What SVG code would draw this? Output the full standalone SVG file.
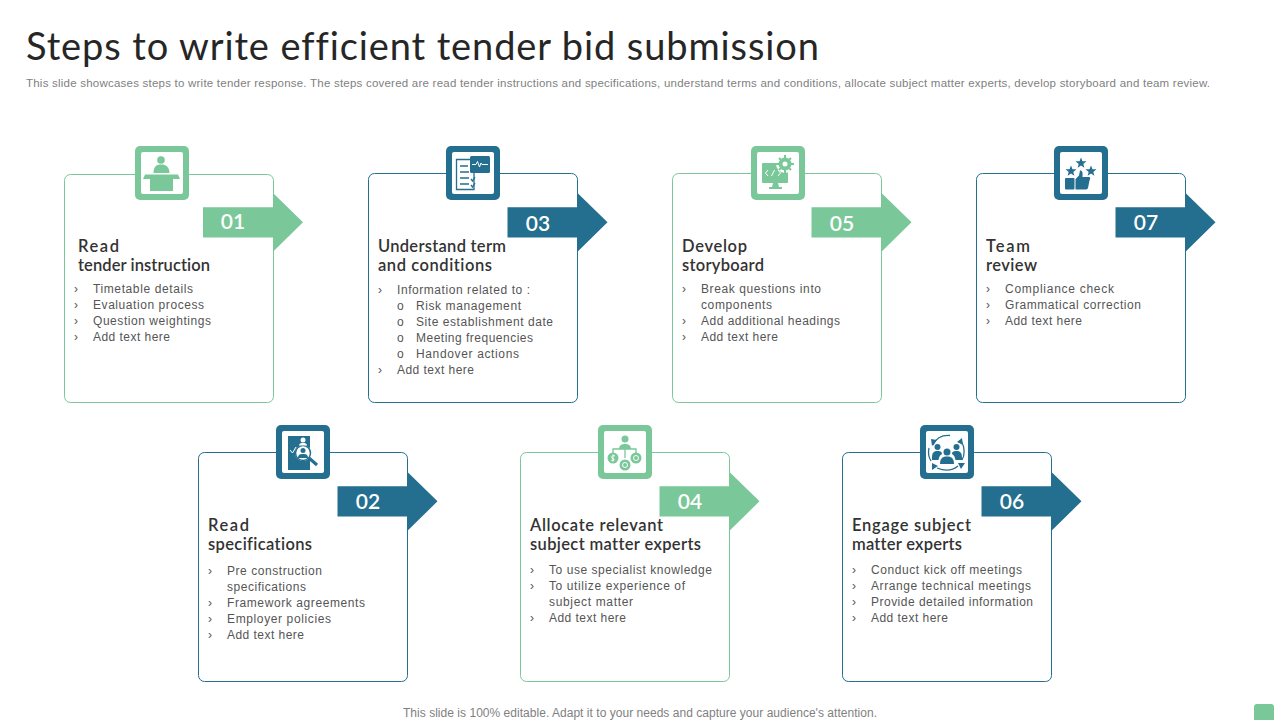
<svg xmlns="http://www.w3.org/2000/svg" width="1280" height="720" viewBox="0 0 1280 720">
<style>
text{font-family:"Liberation Sans",Arial,sans-serif;font-variant-ligatures:none}
.title{font-family:Lato,"Open Sans",sans-serif;font-size:38px;fill:#262626}
.sub{font-size:11.500px;fill:#7f7f7f}
.foot{font-size:12px;fill:#7f7f7f}
.h{font-family:Lato,"Open Sans",sans-serif;font-size:16.500px;font-weight:600;fill:#333}
.b{font-size:12px;fill:#555}
.n{font-family:Lato,"Open Sans",sans-serif;font-size:21px;font-weight:600;fill:#fff;text-anchor:middle}
.g{color:#7ac899}.t{color:#246f8f}
.card{fill:#fff;stroke:currentColor;stroke-width:1}
.f{fill:currentColor}
.s{fill:none;stroke:currentColor;stroke-width:1.300}
.w{fill:#fff}.wl{fill:none;stroke:#fff;stroke-width:1}
</style>
<defs>
<g id="badge"><rect class="f" width="54" height="54" rx="5"/><rect class="w" x="6" y="6" width="42" height="42" rx="2"/></g>
<path id="arrow" class="f" d="M0 14.300H70V0L100 29.300 70 58.800V44.500H0Z"/>
<path id="star" d="M0-5.500 1.500-1.700 5.500-1.700 2.300 .9 3.400 4.800 0 2.500-3.400 4.800-2.300 .9-5.500-1.700-1.500-1.700Z"/>
</defs>
<text class="title" x="26" y="60" textLength="793" lengthAdjust="spacing">Steps to write efficient tender bid submission</text>
<text class="sub" x="26" y="87" textLength="1184" lengthAdjust="spacing">This slide showcases steps to write tender response. The steps covered are read tender instructions and specifications, understand terms and conditions, allocate subject matter experts, develop storyboard and team review.</text>

<g id="step-01" class="g">
<rect class="card" x="64.500" y="174.500" width="209" height="228" rx="6"/>
<use href="#badge" x="135" y="146"/>
<g class="f" transform="translate(135 146)"><circle cx="26" cy="14" r="3.800"/><path d="M18.500 27C18.500 21 21 18.500 26 18.500S34.500 21 34.500 27Z"/><path d="M10 28.500H43L45 33H38V45H15V33H8Z"/></g>
<use href="#arrow" x="203" y="193"/>
<text class="n" x="233" y="229">01</text>
<text class="h" x="78" y="252" textLength="41">Read</text>
<text class="h" x="78" y="271" textLength="132">tender instruction</text>
<text class="b" x="74" y="293">›</text><text class="b" x="93" y="293" textLength="100">Timetable details</text>
<text class="b" x="74" y="309">›</text><text class="b" x="93" y="309" textLength="111">Evaluation process</text>
<text class="b" x="74" y="325">›</text><text class="b" x="93" y="325" textLength="118">Question weightings</text>
<text class="b" x="74" y="341">›</text><text class="b" x="93" y="341" textLength="77">Add text here</text>
</g>

<g id="step-03" class="t">
<rect class="card" x="368.500" y="173.500" width="209" height="229" rx="6"/>
<use href="#badge" x="446" y="146"/>
<g transform="translate(446 146)"><path class="s" d="M10.500 13.500H25V17H28V43.500H10.500Z"/><path class="s" d="M14 20H22M14 26H23M14 32H23M14 38H23M25 33 26.500 35 29 31M25 39 26.500 41 29 37"/><rect class="f" x="24" y="10" width="20" height="17" rx="1.500"/><path class="wl" d="M26 18.500H30L31.500 15.500 33.500 21 35 17 36 18.500H42"/></g>
<use href="#arrow" x="507.500" y="193"/>
<text class="n" x="538" y="231">03</text>
<text class="h" x="378" y="252" textLength="128">Understand term</text>
<text class="h" x="378" y="271" textLength="114">and conditions</text>
<text class="b" x="378" y="294">›</text><text class="b" x="397" y="294" textLength="133">Information  related to :</text>
<text class="b" x="397" y="310">o</text><text class="b" x="416" y="310" textLength="105">Risk management</text>
<text class="b" x="397" y="326">o</text><text class="b" x="416" y="326" textLength="137">Site establishment date</text>
<text class="b" x="397" y="342">o</text><text class="b" x="416" y="342" textLength="117">Meeting frequencies</text>
<text class="b" x="397" y="358">o</text><text class="b" x="416" y="358" textLength="103">Handover  actions</text>
<text class="b" x="378" y="374">›</text><text class="b" x="397" y="374" textLength="77">Add text here</text>
</g>

<g id="step-05" class="g">
<rect class="card" x="672.500" y="173.500" width="209" height="229" rx="6"/>
<use href="#badge" x="751" y="146"/>
<g transform="translate(751 146)"><rect class="f" x="11" y="17" width="26" height="20" rx="1"/><path class="f" d="M22 37H27L28 41H31V43H18V41H21Z"/><circle class="w" cx="34" cy="18" r="9"/><circle class="s" cx="34" cy="18" r="4.500" stroke-width="4" style="stroke-width:4"/><path class="s" style="stroke-width:2" d="M34 9V12M34 24V27M25 18H28M40 18H43M28 12 30 14M38 22 40 24M40 12 38 14M30 22 28 24"/><path class="wl" d="M17 24 14.500 27 17 30M20.500 30 23.500 24M27 24 29.500 27 27 30"/></g>
<use href="#arrow" x="811.500" y="193"/>
<text class="n" x="842" y="231">05</text>
<text class="h" x="682" y="252" textLength="65">Develop</text>
<text class="h" x="682" y="271" textLength="82">storyboard</text>
<text class="b" x="682" y="293">›</text><text class="b" x="701" y="293" textLength="120">Break questions into</text>
<text class="b" x="701" y="309" textLength="71">components</text>
<text class="b" x="682" y="325">›</text><text class="b" x="701" y="325" textLength="139">Add additional headings</text>
<text class="b" x="682" y="341">›</text><text class="b" x="701" y="341" textLength="77">Add text here</text>
</g>

<g id="step-07" class="t">
<rect class="card" x="976.500" y="173.500" width="209" height="229" rx="6"/>
<use href="#badge" x="1054" y="146"/>
<g class="f" transform="translate(1054 146)"><use href="#star" x="27" y="17"/><use href="#star" x="17" y="25"/><use href="#star" x="37" y="25"/><rect x="11" y="32" width="9.500" height="11.500" rx="1"/><path d="M21.500 33 25 29.500 26 24.500C28 24 29 26 28.500 31H35C36.500 31 36.500 33 35.500 34.500L34 42C33.500 43.500 32.500 43.500 31 43.500H21.500Z"/></g>
<use href="#arrow" x="1115.500" y="193"/>
<text class="n" x="1146" y="230">07</text>
<text class="h" x="986" y="252" textLength="44">Team</text>
<text class="h" x="986" y="271" textLength="51">review</text>
<text class="b" x="986" y="293">›</text><text class="b" x="1005" y="293" textLength="109">Compliance check</text>
<text class="b" x="986" y="309">›</text><text class="b" x="1005" y="309" textLength="136">Grammatical correction</text>
<text class="b" x="986" y="325">›</text><text class="b" x="1005" y="325" textLength="77">Add text here</text>
</g>

<g id="step-02" class="t">
<rect class="card" x="198.500" y="452.500" width="209" height="229" rx="6"/>
<use href="#badge" x="276" y="425"/>
<g transform="translate(276 425)"><rect class="f" x="12" y="11" width="22" height="34"/><circle class="w" cx="27" cy="28" r="8"/><circle class="s" cx="27" cy="28" r="7.500" style="stroke-width:1.500"/><circle class="f" cx="27" cy="25.500" r="2.500"/><path class="f" d="M22 33C22 29.500 24 29 27 29S32 29.500 32 33Z"/><path class="s" style="stroke-width:3" d="M33 33 41 40"/><circle class="w" cx="27" cy="15" r="2.500"/><path class="w" d="M23 20.500C23 18.500 25 18 27 18S31 18.500 31 20.500Z"/><path class="wl" d="M14 25 16.500 28 20 22"/></g>
<use href="#arrow" x="337.500" y="472"/>
<text class="n" x="368" y="509">02</text>
<text class="h" x="208" y="531" textLength="41">Read</text>
<text class="h" x="208" y="550" textLength="104">specifications</text>
<text class="b" x="208" y="575">›</text><text class="b" x="227" y="575" textLength="95">Pre construction</text>
<text class="b" x="227" y="591" textLength="79">specifications</text>
<text class="b" x="208" y="607">›</text><text class="b" x="227" y="607" textLength="138">Framework agreements</text>
<text class="b" x="208" y="623">›</text><text class="b" x="227" y="623" textLength="104">Employer policies</text>
<text class="b" x="208" y="639">›</text><text class="b" x="227" y="639" textLength="77">Add text here</text>
</g>

<g id="step-04" class="g">
<rect class="card" x="520.500" y="452.500" width="209" height="229" rx="6"/>
<use href="#badge" x="598" y="425"/>
<g transform="translate(598 425)"><circle class="f" cx="27" cy="14" r="3.500"/><path class="f" d="M21 24C21 20 24 19 27 19S33 20 33 24Z"/><path class="s" d="M15 28V24H38V28M27 24V33"/><circle class="f" cx="15" cy="33" r="5.500"/><circle class="f" cx="27" cy="40" r="5.500"/><circle class="f" cx="38" cy="33" r="5.500"/><circle class="wl" cx="27" cy="40" r="2.500"/><circle class="wl" cx="38" cy="33" r="2.500"/><path class="wl" d="M17 31C15 30 13 31 14 33S17 34 16 35 13.500 35.500 13 35M15 29.500V36.500"/></g>
<use href="#arrow" x="659.500" y="472"/>
<text class="n" x="690" y="509">04</text>
<text class="h" x="530" y="531" textLength="133">Allocate relevant</text>
<text class="h" x="530" y="550" textLength="171">subject matter experts</text>
<text class="b" x="530" y="574">›</text><text class="b" x="549" y="574" textLength="163">To use specialist knowledge</text>
<text class="b" x="530" y="590">›</text><text class="b" x="549" y="590" textLength="136">To utilize experience of</text>
<text class="b" x="549" y="606" textLength="84">subject matter</text>
<text class="b" x="530" y="622">›</text><text class="b" x="549" y="622" textLength="77">Add text here</text>
</g>

<g id="step-06" class="t">
<rect class="card" x="842.500" y="452.500" width="209" height="229" rx="6"/>
<use href="#badge" x="920" y="425"/>
<g transform="translate(920 425)"><g class="f"><circle cx="27" cy="27" r="3.500"/><path d="M20 39C20 33 23 31.500 27 31.500S34 33 34 39Z"/><circle cx="17.500" cy="22" r="3"/><circle cx="36.500" cy="22" r="3"/><path d="M12 33C12 27.500 14 26 17.500 26S22 27 22 29C20 30 19 32 18.500 35H12Z"/><path d="M42 33C42 27.500 40 26 36.500 26S32 27 32 29C34 30 35 32 35.500 35H42Z"/></g><path class="s" d="M13 20C16 13 22 10 30 10.500M41 16C45 22 45 30 42 35M38 41C32 46 24 46 17 43M11 36C8 31 8 27 9 23"/><path class="f" d="M11 14 17 15 12 21ZM42 13 43 20 37 17ZM45 38 38 38 41 44ZM12 38 18 41 12 45Z"/></g>
<use href="#arrow" x="981.500" y="472"/>
<text class="n" x="1012" y="509">06</text>
<text class="h" x="852" y="531" textLength="119">Engage subject</text>
<text class="h" x="852" y="550" textLength="110">matter experts</text>
<text class="b" x="852" y="574">›</text><text class="b" x="871" y="574" textLength="151">Conduct kick off meetings</text>
<text class="b" x="852" y="590">›</text><text class="b" x="871" y="590" textLength="160">Arrange technical meetings</text>
<text class="b" x="852" y="606">›</text><text class="b" x="871" y="606" textLength="162">Provide  detailed information</text>
<text class="b" x="852" y="622">›</text><text class="b" x="871" y="622" textLength="77">Add text here</text>
</g>

<text class="foot" x="403" y="717" textLength="474">This slide is 100% editable. Adapt it to your needs and capture your audience's attention.</text>
<path d="M1257 704H1271A3 3 0 0 1 1274 707V720H1254V707A3 3 0 0 1 1257 704Z" fill="#7ac899"/>
</svg>
